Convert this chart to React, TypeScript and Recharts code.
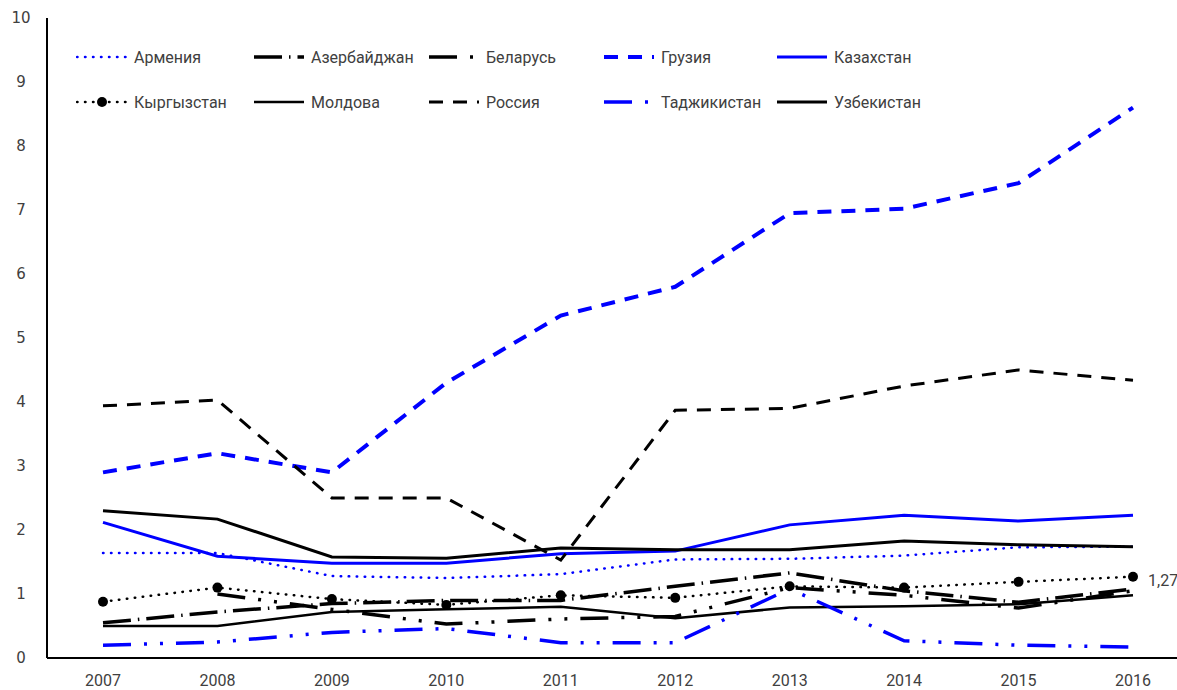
import { LineChart, Line, XAxis, YAxis, Legend, LabelList } from "recharts"

const years = ["2007", "2008", "2009", "2010", "2011", "2012", "2013", "2014", "2015", "2016"]

const armenia = [1.64, 1.64, 1.28, 1.25, 1.31, 1.54, 1.55, 1.6, 1.73, 1.74]
const azerbaijan = [0.55, 0.72, 0.85, 0.9, 0.9, 1.12, 1.33, 1.05, 0.87, 1.08]
const belarus = [null, 1.0, 0.76, 0.53, 0.61, 0.65, 1.1, 0.98, 0.78, 1.05]
const georgia = [2.9, 3.2, 2.9, 4.3, 5.35, 5.8, 6.95, 7.02, 7.42, 8.6]
const kazakhstan = [2.12, 1.59, 1.48, 1.48, 1.63, 1.67, 2.08, 2.23, 2.14, 2.23]
const kyrgyzstan = [0.88, 1.1, 0.92, 0.83, 0.98, 0.94, 1.12, 1.1, 1.19, 1.27]
const moldova = [0.5, 0.5, 0.72, 0.76, 0.8, 0.62, 0.79, 0.81, 0.84, 0.98]
const russia = [3.94, 4.03, 2.5, 2.5, 1.53, 3.87, 3.9, 4.25, 4.5, 4.34]
const tajikistan = [0.2, 0.25, 0.4, 0.46, 0.24, 0.24, 1.08, 0.27, 0.2, 0.17]
const uzbekistan = [2.3, 2.17, 1.58, 1.56, 1.72, 1.69, 1.69, 1.83, 1.77, 1.74]

const yTicks = [0, 1, 2, 3, 4, 5, 6, 7, 8, 9, 10]

const data = years.map((y, i) => ({
  year: y,
  armenia: armenia[i],
  azerbaijan: azerbaijan[i],
  belarus: belarus[i],
  georgia: georgia[i],
  kazakhstan: kazakhstan[i],
  kyrgyzstan: kyrgyzstan[i],
  moldova: moldova[i],
  russia: russia[i],
  tajikistan: tajikistan[i],
  uzbekistan: uzbekistan[i],
}))

const BLUE = "#0000ff"
const BLACK = "#000000"

type S = { key: string; name: string; color: string; w: number; dash?: string; cap?: "round" | "butt"; dot?: boolean }

const series: S[] = [
  { key: "armenia", name: "Армения", color: BLUE, w: 2.5, dash: "0.5 7.5", cap: "round" },
  { key: "azerbaijan", name: "Азербайджан", color: BLACK, w: 3.5, dash: "28 7 1.5 7" },
  { key: "belarus", name: "Беларусь", color: BLACK, w: 3.5, dash: "28 13 3 13 3 13" },
  { key: "georgia", name: "Грузия", color: BLUE, w: 4, dash: "14 10" },
  { key: "kazakhstan", name: "Казахстан", color: BLUE, w: 3 },
  { key: "kyrgyzstan", name: "Кыргызстан", color: BLACK, w: 2.5, dash: "0.5 7.5", cap: "round", dot: true },
  { key: "moldova", name: "Молдова", color: BLACK, w: 2.5 },
  { key: "russia", name: "Россия", color: BLACK, w: 3, dash: "14 10" },
  { key: "tajikistan", name: "Таджикистан", color: BLUE, w: 3.5, dash: "28 13 3 13 3 13" },
  { key: "uzbekistan", name: "Узбекистан", color: BLACK, w: 3 },
]

const textColor = "#404040"
const font = "'Liberation Sans Narrow', Roboto, sans-serif"

const XTick = (p: any) => (
  <text x={p.x} y={p.y + 28} textAnchor="middle" fill={textColor} fontSize={16} fontFamily={font}>
    {p.payload.value}
  </text>
)

const YTick = (p: any) => (
  <text x={21} y={p.y + 5} textAnchor="middle" fill={textColor} fontSize={15} fontFamily="'DejaVu Sans', sans-serif">
    {p.payload.value}
  </text>
)

const KyrDot = (p: any) => {
  if (p.cy == null) return <g key={p.index} />
  return <circle key={p.index} cx={p.cx} cy={p.cy} r={5} fill={BLACK} />
}

const LastLabel = (p: any) => {
  if (p.index !== years.length - 1) return null
  return (
    <text x={p.x + 15} y={p.y + 9} fill={textColor} fontSize={16} fontFamily={font}>
      {String(p.value).replace(".", ",")}
    </text>
  )
}

const LegendBox = () => (
  <div style={{ display: "grid", gridTemplateColumns: "177px 175px 175px 173px 175px", rowGap: 25 }}>
    {series.map((s) => (
      <div key={s.key} style={{ display: "flex", alignItems: "center", height: 20 }}>
        <svg width={58} height={20}>
          <line x1={1} x2={51} y1={10} y2={10} stroke={s.color} strokeWidth={s.w} strokeDasharray={s.dash} strokeLinecap={s.cap || "butt"} />
          {s.dot && <circle cx={26} cy={10} r={5} fill={BLACK} />}
        </svg>
        <span style={{ fontFamily: font, fontSize: 16, color: textColor }}>{s.name}</span>
      </div>
    ))}
  </div>
)

export default function App() {
  return (
    <div style={{ position: "absolute", left: 0, top: 0, width: 1177, height: 690, overflow: "hidden", background: "#fff" }}>
      <LineChart width={1200} height={690} data={data} margin={{ top: 18, right: 9, bottom: 0, left: 0 }}>
        <XAxis
          dataKey="year"
          height={32}
          padding={{ left: 56, right: 58 }}
          tickLine={false}
          tickSize={0}
          tickMargin={0}
          tick={<XTick />}
          axisLine={{ stroke: "#000", strokeWidth: 2 }}
        />
        <YAxis width={47} domain={[0, 10]} ticks={yTicks} interval={0} tickLine={false} tickSize={0} tick={<YTick />} axisLine={{ stroke: "#000", strokeWidth: 2 }} />
        <Legend layout="vertical" align="center" verticalAlign="middle" wrapperStyle={{ top: 47, left: 76, width: 900 }} content={<LegendBox />} />
        {series.map((s) => (
          <Line
            key={s.key}
            type="linear"
            dataKey={s.key}
            name={s.name}
            stroke={s.color}
            strokeWidth={s.w}
            strokeDasharray={s.dash}
            strokeLinecap={s.cap || "butt"}
            dot={s.dot ? KyrDot : false}
            activeDot={false}
            isAnimationActive={false}
          >
            {s.key === "kyrgyzstan" && <LabelList dataKey="kyrgyzstan" content={<LastLabel />} />}
          </Line>
        ))}
      </LineChart>
    </div>
  )
}
